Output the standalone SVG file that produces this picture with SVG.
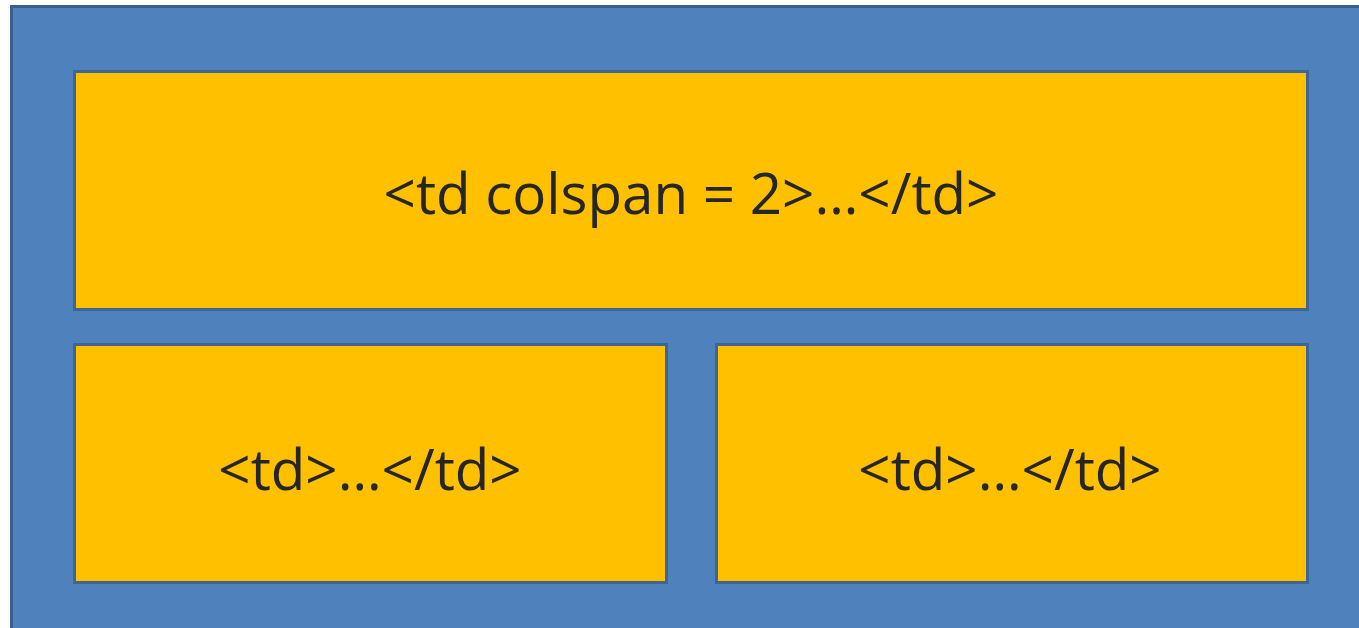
<svg xmlns="http://www.w3.org/2000/svg" width="1359" height="628" viewBox="0 0 1359 628">
<style>
.cell{fill:#ffc000;stroke:#3f6594;stroke-width:3}
.lbl{font-family:"Open Sans",sans-serif;font-size:56.5px;fill:#262626;text-anchor:middle}
</style>
<rect width="1359" height="628" fill="#ffffff"/>
<g id="table">
<rect x="11.5" y="6.5" width="1360" height="630" fill="#4f81bd" stroke="#3a5f8f" stroke-width="3"/>
</g>
<g id="cell-top">
<rect class="cell" x="74.5" y="71.5" width="1233" height="238"/>
<text class="lbl" x="691" y="214">&lt;td colspan = 2&gt;…&lt;/td&gt;</text>
</g>
<g id="cell-left">
<rect class="cell" x="74.5" y="344.5" width="592" height="238"/>
<text class="lbl" x="370" y="490">&lt;td&gt;…&lt;/td&gt;</text>
</g>
<g id="cell-right">
<rect class="cell" x="716.5" y="344.5" width="591" height="238"/>
<text class="lbl" x="1010" y="490">&lt;td&gt;…&lt;/td&gt;</text>
</g>
<g id="connectors"/>
</svg>
